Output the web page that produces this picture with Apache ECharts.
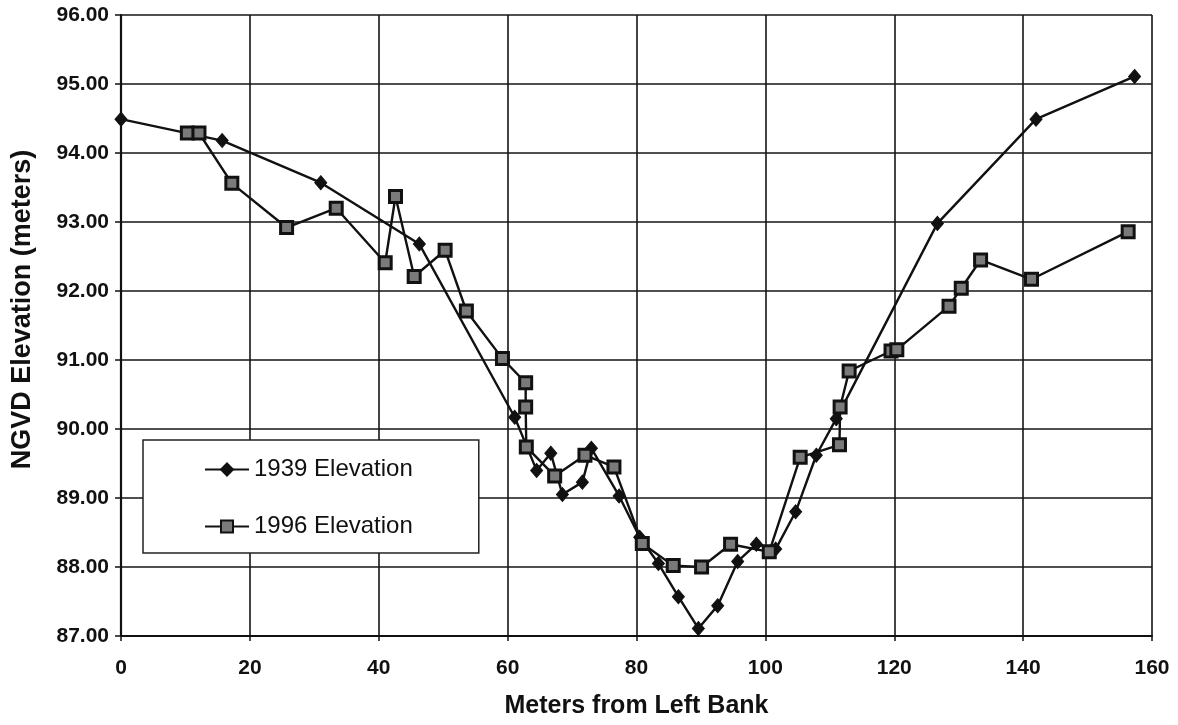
<!DOCTYPE html>
<html>
<head>
<meta charset="utf-8">
<script src="https://cdn.jsdelivr.net/npm/echarts@6/dist/echarts.min.js"></script>
<style>
  html, body { margin: 0; padding: 0; background: #ffffff; }
  #chart { width: 1178px; height: 725px; }
</style>
</head>
<body>
<div id="chart"></div>
<script>
// Channel cross-section survey: distance from left bank (m) vs NGVD elevation (m)
const seriesNames = ['1939 Elevation', '1996 Elevation'];

const dist1939 = [0, 15.7, 31.0, 46.3, 61.1, 64.5, 66.7, 68.5, 71.6, 73.0, 77.3, 80.5, 83.4,
  86.5, 89.6, 92.6, 95.7, 98.6, 101.6, 104.7, 107.9, 111.0, 126.7, 142.0, 157.3];
const elev1939 = [94.49, 94.18, 93.57, 92.68, 90.17, 89.40, 89.65, 89.05, 89.23, 89.72, 89.03, 88.43, 88.05,
  87.57, 87.11, 87.44, 88.08, 88.33, 88.26, 88.80, 89.62, 90.15, 92.98, 94.49, 95.11];

const dist1996 = [10.3, 12.1, 17.2, 25.7, 33.4, 41.0, 42.6, 45.5, 50.3, 53.6, 59.2, 62.8, 62.8, 62.9,
  67.3, 72.0, 76.5, 80.9, 85.7, 90.1, 94.6, 100.6, 105.4, 111.5, 111.6, 113.0, 119.5, 120.4,
  128.5, 130.4, 133.4, 141.3, 156.3];
const elev1996 = [94.29, 94.29, 93.56, 92.92, 93.20, 92.41, 93.37, 92.21, 92.59, 91.71, 91.02, 90.67, 90.32, 89.74,
  89.32, 89.62, 89.45, 88.34, 88.02, 88.00, 88.33, 88.22, 89.59, 89.77, 90.32, 90.84, 91.13, 91.15,
  91.78, 92.04, 92.45, 92.17, 92.86];

const xTitle = 'Meters from Left Bank';
const yTitle = 'NGVD Elevation (meters)';

const pairs = (xs, ys) => xs.map((x, i) => [x, ys[i]]);

const chart = echarts.init(document.getElementById('chart'), null, { renderer: 'canvas' });

const axisFont = '"Liberation Sans", Arial, Helvetica, sans-serif';
const ink = '#111';

chart.setOption({
  backgroundColor: '#ffffff',
  animation: false,
  grid: { left: 121, right: 26, top: 15, bottom: 89, containLabel: false },
  xAxis: {
    type: 'value',
    min: 0, max: 160, interval: 20,
    name: xTitle,
    nameLocation: 'middle',
    nameGap: 58,
    nameTextStyle: { fontFamily: axisFont, fontWeight: 'bold', fontSize: 25, color: ink },
    axisLine: { show: true, onZero: false, lineStyle: { color: ink, width: 2.2 } },
    axisTick: { show: true, inside: false, length: 5, lineStyle: { color: ink, width: 1.5 } },
    axisLabel: { margin: 22, fontFamily: axisFont, fontWeight: 'bold', fontSize: 21, color: ink },
    splitLine: { show: true, lineStyle: { color: '#151515', width: 1.6 } }
  },
  yAxis: {
    type: 'value',
    min: 87, max: 96, interval: 1,
    name: yTitle,
    nameLocation: 'middle',
    nameGap: 85,
    nameRotate: 90,
    nameTextStyle: { fontFamily: axisFont, fontWeight: 'bold', fontSize: 27, color: ink, padding: [0, 0, 0, 32] },
    axisLine: { show: true, onZero: false, lineStyle: { color: ink, width: 2.2 } },
    axisTick: { show: true, inside: false, length: 6, lineStyle: { color: ink, width: 1.5 } },
    axisLabel: {
      margin: 12, fontFamily: axisFont, fontWeight: 'bold', fontSize: 21, color: ink,
      formatter: v => v.toFixed(2)
    },
    splitLine: { show: true, lineStyle: { color: '#151515', width: 1.6 } }
  },
  legend: {
    data: seriesNames,
    orient: 'vertical',
    left: 143,
    top: 440,
    padding: [17, 66, 14, 61],
    itemGap: 32,
    itemWidth: 44,
    itemHeight: 15,
    backgroundColor: '#ffffff',
    borderColor: '#222',
    borderWidth: 1.5,
    borderRadius: 0,
    textStyle: { fontFamily: axisFont, fontSize: 24, color: ink, lineHeight: 25 }
  },
  series: [
    {
      name: seriesNames[0],
      type: 'line',
      data: pairs(dist1939, elev1939),
      symbol: 'diamond',
      symbolSize: [12, 14],
      lineStyle: { color: ink, width: 2.4 },
      itemStyle: { color: ink, borderColor: ink, borderWidth: 1 },
      z: 3
    },
    {
      name: seriesNames[1],
      type: 'line',
      data: pairs(dist1996, elev1996),
      symbol: 'rect',
      symbolSize: 12,
      lineStyle: { color: ink, width: 2.4 },
      itemStyle: { color: '#7a7a7a', borderColor: '#111', borderWidth: 3 },
      z: 4
    }
  ]
});
</script>
</body>
</html>
